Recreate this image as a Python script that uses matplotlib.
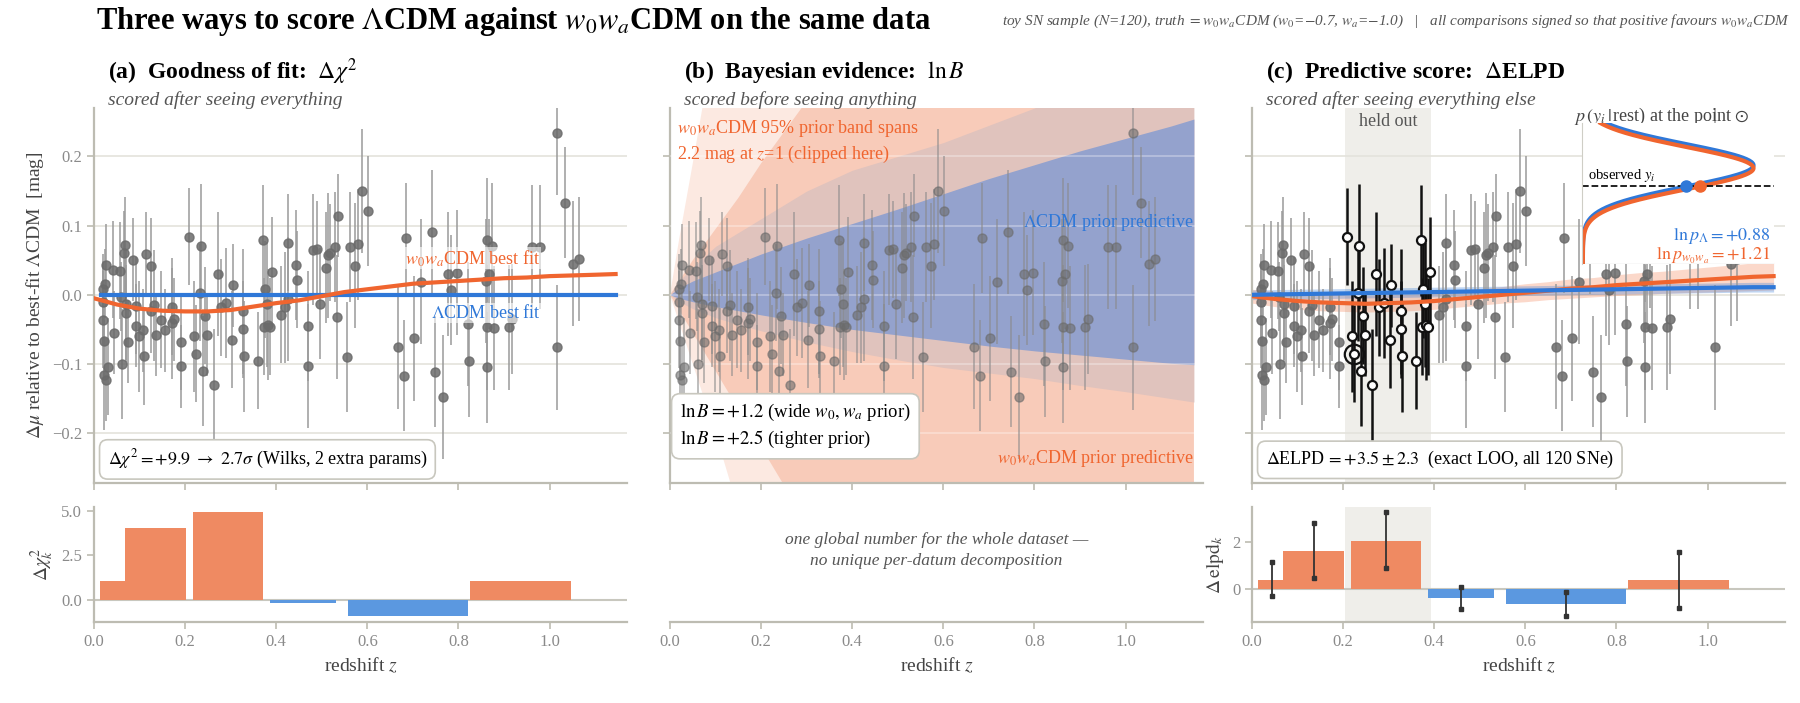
import numpy as np
import matplotlib
matplotlib.use('Agg')
import matplotlib.pyplot as plt

plt.rcParams['font.family'] = ['Liberation Serif', 'DejaVu Serif']
plt.rcParams['mathtext.fontset'] = 'stix'

ORANGE = '#f0652f'
BLUE = '#2f78d8'
GRAY_SPINE = '#bdbcb2'
GRID = '#e4e3dc'
TICK = '#8a8a8a'

# supernova residuals (z, delta mu [mag], error)
sn_z = [0.019, 0.020, 0.019, 0.023, 0.022, 0.026, 0.030, 0.026, 0.024, 0.042,
        0.043, 0.056, 0.060, 0.062, 0.068, 0.066, 0.071, 0.070, 0.075, 0.086,
        0.093, 0.093, 0.099, 0.108, 0.109, 0.115, 0.125, 0.125, 0.131, 0.137,
        0.146, 0.155, 0.172, 0.172, 0.176, 0.191, 0.191, 0.209, 0.220, 0.224,
        0.235, 0.233, 0.239, 0.243, 0.249, 0.263, 0.272, 0.279, 0.289, 0.302,
        0.306, 0.328, 0.328, 0.330, 0.361, 0.370, 0.375, 0.380, 0.373, 0.382,
        0.387, 0.391, 0.411, 0.419, 0.425, 0.426, 0.444, 0.445, 0.470, 0.470,
        0.480, 0.489, 0.495, 0.509, 0.513, 0.519, 0.529, 0.535, 0.533, 0.555,
        0.561, 0.572, 0.579, 0.589, 0.601, 0.668, 0.681, 0.684, 0.702, 0.717,
        0.741, 0.748, 0.767, 0.777, 0.783, 0.797, 0.820, 0.823, 0.863, 0.873,
        0.867, 0.860, 0.862, 0.862, 0.879, 0.910, 0.918, 0.961, 0.979, 1.017,
        1.034, 1.017, 1.052, 1.064]
sn_dmu = [0.009, -0.011, -0.036, -0.067, -0.116, -0.123, -0.104, 0.043, 0.016, 0.036,
          -0.055, 0.035, -0.003, -0.100, 0.072, 0.061, -0.014, -0.027, -0.068, 0.051,
          -0.016, -0.045, -0.060, -0.051, -0.089, 0.059, 0.041, -0.024, -0.015, -0.058,
          -0.036, -0.051, -0.017, -0.041, -0.035, -0.068, -0.103, 0.084, -0.060, -0.085,
          0.070, 0.003, -0.110, -0.030, -0.058, -0.130, 0.030, -0.018, -0.012, -0.065,
          0.014, -0.024, -0.050, -0.089, -0.095, 0.079, 0.008, -0.014, -0.046, -0.043,
          -0.046, 0.033, -0.029, -0.018, 0.075, -0.006, 0.043, 0.022, -0.045, -0.103,
          0.065, 0.066, -0.013, 0.039, 0.057, 0.061, 0.069, 0.114, -0.032, -0.090,
          0.069, 0.042, 0.073, 0.150, 0.121, -0.075, -0.117, 0.082, -0.063, 0.019,
          0.091, -0.111, -0.148, 0.030, 0.007, 0.032, -0.042, -0.096, 0.079, 0.071,
          0.030, 0.020, -0.047, -0.105, -0.048, -0.047, -0.035, 0.069, 0.069, 0.234,
          0.133, -0.076, 0.045, 0.052]
sn_err = [0.05, 0.06, 0.07, 0.05, 0.08, 0.06, 0.07, 0.06, 0.05, 0.07,
          0.06, 0.07, 0.05, 0.08, 0.07, 0.06, 0.08, 0.07, 0.06, 0.06,
          0.07, 0.06, 0.08, 0.06, 0.07, 0.06, 0.07, 0.06, 0.08, 0.06,
          0.07, 0.06, 0.07, 0.08, 0.06, 0.07, 0.06, 0.07, 0.08, 0.07,
          0.09, 0.07, 0.08, 0.07, 0.06, 0.08, 0.09, 0.07, 0.08, 0.07,
          0.06, 0.09, 0.07, 0.08, 0.07, 0.08, 0.07, 0.09, 0.07, 0.08,
          0.07, 0.08, 0.07, 0.08, 0.07, 0.09, 0.08, 0.07, 0.08, 0.09,
          0.08, 0.07, 0.08, 0.08, 0.09, 0.07, 0.08, 0.06, 0.09, 0.08,
          0.08, 0.09, 0.08, 0.09, 0.08, 0.09, 0.08, 0.08, 0.09, 0.09,
          0.09, 0.08, 0.09, 0.09, 0.08, 0.09, 0.09, 0.08, 0.09, 0.09,
          0.08, 0.09, 0.09, 0.08, 0.09, 0.09, 0.08, 0.09, 0.09, 0.09,
          0.08, 0.09, 0.09, 0.09]
held_lo, held_hi = 0.205, 0.392
marked_idx = 39

# best-fit curves
curve_z = [0.0, 0.05, 0.1, 0.15, 0.2, 0.25, 0.3, 0.35, 0.4, 0.45, 0.5, 0.55,
           0.6, 0.65, 0.7, 0.75, 0.8, 0.85, 0.9, 0.95, 1.0, 1.05, 1.1, 1.145]
wowa_fit = [-0.005, -0.014, -0.020, -0.023, -0.024, -0.024, -0.022, -0.017, -0.012, -0.008,
            -0.002, 0.004, 0.008, 0.012, 0.016, 0.018, 0.020, 0.022, 0.024, 0.025,
            0.027, 0.028, 0.029, 0.030]
loo_lcdm = [0.000, 0.0005, 0.001, 0.0015, 0.002, 0.0025, 0.003, 0.0035, 0.004, 0.0045,
            0.005, 0.0055, 0.006, 0.0065, 0.007, 0.0075, 0.008, 0.0085, 0.009, 0.0095,
            0.010, 0.0105, 0.011, 0.011]
loo_lcdm_sd = [0.007] * 24
loo_wowa = [-0.002, -0.006, -0.009, -0.011, -0.012, -0.013, -0.012, -0.011, -0.009, -0.006,
            -0.003, 0.000, 0.003, 0.006, 0.009, 0.011, 0.014, 0.016, 0.018, 0.020,
            0.022, 0.024, 0.026, 0.027]
loo_wowa_sd = [0.010, 0.011, 0.012, 0.012, 0.012, 0.012, 0.012, 0.012, 0.012, 0.012,
               0.012, 0.012, 0.013, 0.013, 0.014, 0.014, 0.015, 0.016, 0.016, 0.017,
               0.018, 0.019, 0.020, 0.020]

# prior predictive bands
band_z = [0.0, 0.02, 0.05, 0.1, 0.15, 0.2, 0.3, 0.4, 0.5, 0.6, 0.7, 0.8, 0.9, 1.0, 1.1, 1.15]
lcdm_up = [0, 0.010, 0.020, 0.033, 0.046, 0.059, 0.082, 0.103, 0.124, 0.146, 0.168, 0.188, 0.208, 0.226, 0.244, 0.254]
lcdm_lo = [0, -0.005, -0.010, -0.017, -0.023, -0.029, -0.040, -0.050, -0.058, -0.066, -0.074, -0.081, -0.087, -0.093, -0.099, -0.101]
tight_up = [0, 0.02, 0.04, 0.07, 0.09, 0.11, 0.15, 0.18, 0.20, 0.22, 0.245, 0.27, 0.30, 0.33, 0.36, 0.37]
tight_lo = [0, -0.010, -0.020, -0.033, -0.043, -0.052, -0.068, -0.082, -0.094, -0.105, -0.113, -0.121, -0.131, -0.140, -0.150, -0.155]
mid_up = [0, 0.02, 0.05, 0.095, 0.14, 0.19, 0.28, 0.37, 0.46, 0.55, 0.64, 0.73, 0.82, 0.91, 1.0, 1.05]
mid_lo = [0, -0.022, -0.055, -0.11, -0.165, -0.22, -0.33, -0.44, -0.55, -0.66, -0.77, -0.88, -0.99, -1.1, -1.2, -1.25]
wide_up = [0, 0.08, 0.19, 0.38, 0.57, 0.76, 1.1, 1.4, 1.7, 2.0, 2.3, 2.6, 2.9, 3.2, 3.5, 3.6]
wide_lo = [0, -0.04, -0.10, -0.20, -0.31, -0.41, -0.6, -0.8, -1.0, -1.2, -1.4, -1.6, -1.8, -2.0, -2.2, -2.3]

# per-bin decompositions
bin_lo = [0.013, 0.068, 0.218, 0.387, 0.557, 0.825]
bin_hi = [0.068, 0.203, 0.370, 0.532, 0.820, 1.046]
dchi2_k = [1.03, 4.03, 4.90, -0.19, -0.94, 1.03]
delpd_k = [0.41, 1.63, 2.06, -0.37, -0.62, 0.39]
delpd_z = [0.043, 0.137, 0.294, 0.458, 0.689, 0.937]
delpd_hi = [1.14, 2.82, 3.27, 0.08, -0.11, 1.59]
delpd_lo = [-0.27, 0.48, 0.89, -0.82, -1.14, -0.79]

# LOO predictive densities at the marked point (inset)
pdf_mean = {'lcdm': 0.70, 'wowa': 0.68}
pdf_sd = 0.15
obs_level = 0.55

W, H = 1800, 703
fig = plt.figure(figsize=(18, 7.03), dpi=100)

def fr(l, t, r, b):
    return [l / W, 1 - b / H, (r - l) / W, (b - t) / H]

lefts = [94, 670, 1252]
wid = 533
top_axes = [fig.add_axes(fr(l, 108, l + wid, 483)) for l in lefts]
bot_axes = [fig.add_axes(fr(l, 507, l + wid, 622)) for l in lefts]

def style(ax, show_left=True):
    for s in ['top', 'right']:
        ax.spines[s].set_visible(False)
    ax.spines['left'].set_visible(show_left)
    for s in ['left', 'bottom']:
        ax.spines[s].set_color(GRAY_SPINE)
        ax.spines[s].set_linewidth(1.6)
    ax.tick_params(colors=GRAY_SPINE, labelcolor=TICK, labelsize=12, length=5, width=1.2)
    ax.set_xlim(0, 1.17)
    ax.set_xticks([0, 0.2, 0.4, 0.6, 0.8, 1.0])

z = np.array(sn_z)
dmu = np.array(sn_dmu)
err = np.array(sn_err)
held = (z >= held_lo) & (z <= held_hi)
label_box = dict(boxstyle='square,pad=0.05', fc='white', ec='none', alpha=0.6)

for i, ax in enumerate(top_axes):
    style(ax)
    ax.set_ylim(-0.272, 0.27)
    ax.set_yticks([-0.2, -0.1, 0.0, 0.1, 0.2])
    ax.yaxis.grid(True, color=GRID, lw=1.2, zorder=0)
    ax.set_axisbelow(True)
    ax.set_xticklabels([])
    if i > 0:
        ax.set_yticklabels([])
    else:
        ax.set_yticklabels(['\N{MINUS SIGN}0.2', '\N{MINUS SIGN}0.1', '0.0', '0.1', '0.2'])

# panel a
ax = top_axes[0]
ax.errorbar(z, dmu, yerr=err, fmt='o', ms=6.5, color='#6b6b6b', ecolor='#9a9a9a',
            elinewidth=1.3, alpha=0.85, zorder=3)
ax.plot([0.015, 1.145], [0, 0], color=BLUE, lw=3, zorder=4)
ax.plot(curve_z, wowa_fit, color=ORANGE, lw=3, zorder=5)
ax.text(0.98, 0.038, r'$w_0w_a$CDM best fit', color=ORANGE, fontsize=13, ha='right', va='bottom',
        zorder=6, bbox=label_box)
ax.text(0.98, -0.013, r'$\Lambda$CDM best fit', color=BLUE, fontsize=13, ha='right', va='top',
        zorder=6, bbox=label_box)
ax.text(0.03, -0.245, r'$\Delta\chi^2 = +9.9\ \rightarrow\ 2.7\sigma$ (Wilks, 2 extra params)', fontsize=13,
        bbox=dict(boxstyle='round,pad=0.45', fc='white', ec='#c8c7be', lw=1.2), zorder=7)
ax.set_ylabel(r'$\Delta\mu$ relative to best-fit $\Lambda$CDM  [mag]', fontsize=14, color='#444444')

# panel b
ax = top_axes[1]
ax.fill_between(band_z, wide_lo, wide_up, color='#fce9e1', lw=0, zorder=1)
ax.fill_between(band_z, mid_lo, mid_up, color='#f8cbb9', lw=0, zorder=1)
ax.fill_between(band_z, tight_lo, tight_up, color='#e0c3bd', lw=0, zorder=1)
ax.fill_between(band_z, lcdm_lo, lcdm_up, color='#94a2cd', lw=0, zorder=1)
ax.set_axisbelow(False)
ax.yaxis.grid(True, color='#ffffff', alpha=0.35, lw=1.2, zorder=1.5)
ax.errorbar(z, dmu, yerr=err, fmt='o', ms=6.5, color='#6b6b6b', ecolor='#8a8a8a',
            elinewidth=1.3, alpha=0.6, zorder=3)
ax.text(0.015, 0.255, r'$w_0w_a$CDM 95% prior band spans' + '\n' + r'2.2 mag at $z$=1 (clipped here)',
        color=ORANGE, fontsize=13, va='top', zorder=6, linespacing=1.3)
ax.text(1.15, 0.104, r'$\Lambda$CDM prior predictive', color=BLUE, fontsize=13, ha='right', va='center', zorder=6)
ax.text(1.15, -0.236, r'$w_0w_a$CDM prior predictive', color=ORANGE, fontsize=13, ha='right', va='center', zorder=6)
ax.text(0.022, -0.19, r'$\ln B = +1.2$ (wide $w_0, w_a$ prior)' + '\n' + r'$\ln B = +2.5$ (tighter prior)',
        fontsize=13.5, va='center', linespacing=1.4,
        bbox=dict(boxstyle='round,pad=0.45', fc='white', ec='#c8c7be', lw=1.2), zorder=7)

# panel c
ax = top_axes[2]
ax.axvspan(held_lo, held_hi, color='#efeeea', zorder=0.5, lw=0)
ax.text((held_lo + held_hi) / 2, 0.25, 'held out', fontsize=13, color='#555555', ha='center', va='center')
ax.errorbar(z[~held], dmu[~held], yerr=err[~held], fmt='o', ms=6.5, color='#6b6b6b', ecolor='#9a9a9a',
            elinewidth=1.3, alpha=0.85, zorder=3)
ax.errorbar(z[held], dmu[held], yerr=err[held], fmt='o', ms=6.5, mfc='white', mec='#111111', mew=1.6,
            ecolor='#111111', elinewidth=1.8, zorder=4)
ax.plot(z[marked_idx], dmu[marked_idx], 'o', ms=14, mfc='none', mec='#111111', mew=1.6, zorder=5)
lc = np.array(loo_lcdm)
ls = np.array(loo_lcdm_sd)
wc = np.array(loo_wowa)
wsd = np.array(loo_wowa_sd)
ax.fill_between(curve_z, wc - wsd, wc + wsd, color=ORANGE, alpha=0.25, lw=0, zorder=2)
ax.fill_between(curve_z, lc - ls, lc + ls, color=BLUE, alpha=0.3, lw=0, zorder=2)
ax.plot(curve_z, wc, color=ORANGE, lw=3, zorder=5)
ax.plot(curve_z, lc, color=BLUE, lw=3, zorder=5)
ax.text(0.03, -0.245, r'$\Delta$ELPD$\,=+3.5\pm2.3$  (exact LOO, all 120 SNe)', fontsize=13,
        bbox=dict(boxstyle='round,pad=0.45', fc='white', ec='#c8c7be', lw=1.2), zorder=7)

# inset
ins = fig.add_axes(fr(1582, 123, 1774, 264))
ins.set_facecolor('white')
ins.set_zorder(10)
for s in ['top', 'right', 'bottom']:
    ins.spines[s].set_visible(False)
ins.spines['left'].set_color('#cfcec6')
ins.axhline(0.0, color='#e0e0e0', lw=1)
ins.set_xticks([])
ins.set_yticks([])
yy = np.linspace(0.0, 1.0, 200)
for key, col in [('lcdm', BLUE), ('wowa', ORANGE)]:
    dens = np.exp(-0.5 * ((yy - pdf_mean[key]) / pdf_sd) ** 2)
    ins.plot(dens, yy, color=col, lw=3)
    d_obs = np.exp(-0.5 * ((obs_level - pdf_mean[key]) / pdf_sd) ** 2)
    ins.plot(d_obs, obs_level, 'o', color=col, ms=8, zorder=5)
ins.axhline(obs_level, color='#111111', ls='--', lw=1.3)
ins.set_xlim(-0.005, 1.12)
ins.set_ylim(0, 1.0)
ins.text(0.03, obs_level + 0.02, r'observed $y_i$', fontsize=10.5, va='bottom')
ins.text(1.1, 0.2, r'$\ln p_\Lambda = +0.88$', color=BLUE, fontsize=13, ha='right', va='center')
ins.text(1.1, 0.06, r'$\ln p_{w_0w_a} = +1.21$', color=ORANGE, fontsize=13, ha='right', va='center')
fig.text(1574 / W, 1 - 116 / H, r'$p\,(y_i\,|\,$rest) at the point $\odot$', fontsize=13,
         color='#444444', va='center', ha='left')

# bottom panels
ax = bot_axes[0]
style(ax)
for lo, hi, v in zip(bin_lo, bin_hi, dchi2_k):
    ax.bar(lo, v, width=hi - lo, align='edge', color='#ef8a62' if v > 0 else '#5b98e0', zorder=2)
ax.axhline(0, color='#c8c7be', lw=1.5, zorder=1)
ax.set_ylim(-1.25, 5.2)
ax.set_yticks([0, 2.5, 5.0])
ax.set_yticklabels(['0.0', '2.5', '5.0'])
ax.set_ylabel(r'$\Delta\chi^2_k$', fontsize=14, color='#444444')

ax = bot_axes[1]
style(ax, show_left=False)
ax.set_yticks([])
ax.set_ylim(0, 1)
ax.text(0.585, 0.62, 'one global number for the whole dataset —\nno unique per-datum decomposition',
        fontsize=12.5, style='italic', color='#555555', ha='center', va='center', linespacing=1.4)

ax = bot_axes[2]
style(ax)
ax.axvspan(held_lo, held_hi, color='#efeeea', zorder=0.5, lw=0)
for lo, hi, v in zip(bin_lo, bin_hi, delpd_k):
    ax.bar(lo, v, width=hi - lo, align='edge', color='#ef8a62' if v > 0 else '#5b98e0', zorder=2)
ax.axhline(0, color='#c8c7be', lw=1.5, zorder=1)
for x, lo, hi in zip(delpd_z, delpd_lo, delpd_hi):
    ax.plot([x, x], [lo, hi], color='#333333', lw=1.3, zorder=4)
    ax.plot([x, x], [lo, hi], 's', color='#333333', ms=3, zorder=4)
ax.set_ylim(-1.38, 3.48)
ax.set_yticks([0, 2])
ax.set_ylabel(r'$\Delta\,\mathrm{elpd}_k$', fontsize=14, color='#444444')

for ax in bot_axes:
    ax.set_xlabel(r'redshift $z$', fontsize=14, color='#444444')

# titles
titles = [(r'(a)  Goodness of fit:  $\Delta\chi^2$', 'scored after seeing everything'),
          (r'(b)  Bayesian evidence:  $\ln B$', 'scored before seeing anything'),
          (r'(c)  Predictive score:  $\Delta$ELPD', 'scored after seeing everything else')]
for l, (t, s) in zip(lefts, titles):
    fig.text((l + 14) / W, 1 - 72 / H, t, fontsize=17, weight='bold', va='center')
    fig.text((l + 14) / W, 1 - 100 / H, s, fontsize=14, style='italic', color='#555555', va='center')

fig.text(96 / W, 1 - 21 / H, r'Three ways to score $\Lambda$CDM against $w_0w_a$CDM on the same data',
         fontsize=22, weight='bold', va='center')
fig.text(1790 / W, 1 - 21 / H,
         r'toy SN sample ($N$=120), truth $= w_0w_a$CDM ($w_0$=$-$0.7, $w_a$=$-$1.0)   |   '
         r'all comparisons signed so that positive favours $w_0w_a$CDM',
         fontsize=11, style='italic', color='#555555', ha='right', va='center')

fig.savefig('out.png', dpi=100)
